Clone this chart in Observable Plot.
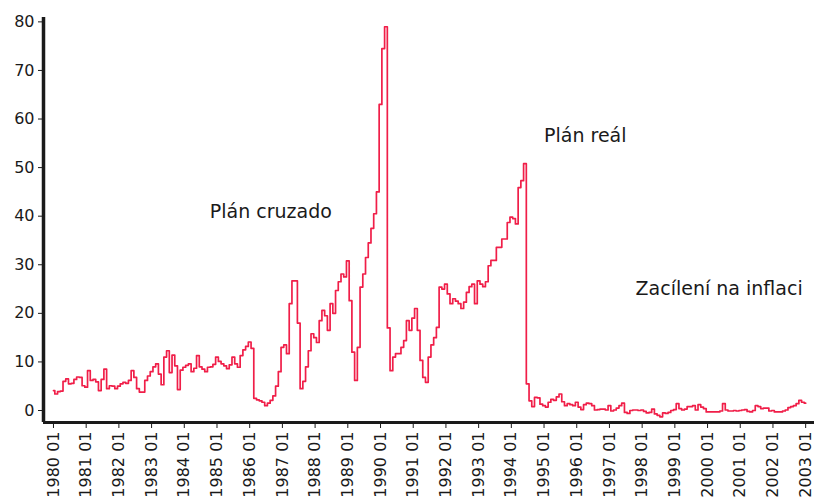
<!DOCTYPE html>
<html><head><meta charset="utf-8">
<script src="https://cdn.jsdelivr.net/npm/d3@7"></script>
<script src="https://cdn.jsdelivr.net/npm/@observablehq/plot@0.6"></script>
<style>html,body{margin:0;padding:0;background:#fff} svg{display:block}</style>
</head><body><div id="chart"></div>
<script>
// Monthly inflation (%), January..December
const infl1980 = [4.1, 3.4, 3.9, 4.0, 6.0, 6.5, 5.5, 5.6, 6.4, 6.9, 6.8, 5.1];
const infl1981 = [4.8, 8.2, 6.2, 6.4, 5.9, 4.1, 6.4, 8.5, 4.5, 5.1, 5.0, 4.5];
const infl1982 = [5.0, 5.5, 5.8, 5.6, 6.2, 8.2, 6.8, 4.5, 3.8, 3.8, 6.2, 7.1];
const infl1983 = [8.0, 9.0, 9.6, 7.5, 5.3, 11.0, 12.3, 7.8, 11.4, 9.2, 4.3, 8.3];
const infl1984 = [8.9, 9.3, 9.6, 8.0, 8.7, 11.3, 9.0, 8.5, 8.0, 8.9, 9.0, 9.5];
const infl1985 = [11.0, 10.1, 9.6, 9.2, 8.6, 9.4, 11.0, 9.6, 8.9, 11.3, 12.5, 13.2];
const infl1986 = [14.1, 12.8, 2.5, 2.2, 2.0, 1.7, 1.0, 1.5, 2.1, 3.0, 5.0, 8.0];
const infl1987 = [13.0, 13.5, 11.7, 22.0, 26.7, 26.7, 18.0, 4.5, 6.0, 9.0, 12.3, 15.8];
const infl1988 = [15.0, 14.0, 18.5, 20.6, 19.5, 16.5, 22.0, 20.0, 24.7, 26.5, 28.1, 27.5];
const infl1989 = [30.8, 22.6, 12.0, 6.2, 13.0, 25.4, 28.1, 31.5, 34.5, 37.5, 40.5, 45.0];
const infl1990 = [63.0, 74.5, 79.0, 17.0, 8.2, 11.0, 11.7, 11.7, 13.0, 14.4, 18.5, 16.5];
const infl1991 = [19.0, 21.0, 16.5, 10.3, 6.8, 5.8, 11.0, 13.5, 15.0, 17.1, 25.4, 25.0];
const infl1992 = [26.0, 24.0, 22.0, 23.0, 22.5, 22.0, 21.0, 22.3, 24.3, 25.5, 26.0, 22.0];
const infl1993 = [26.7, 26.0, 25.5, 26.5, 29.8, 30.9, 30.9, 33.6, 33.6, 35.3, 35.3, 38.7];
const infl1994 = [39.8, 39.5, 38.4, 45.9, 47.3, 50.8, 5.5, 2.0, 0.8, 2.7, 2.6, 1.3];
const infl1995 = [1.0, 0.7, 1.7, 2.3, 2.1, 2.8, 3.4, 1.8, 1.0, 1.4, 1.2, 1.0];
const infl1996 = [1.7, 0.7, 0.2, 1.2, 1.5, 1.4, 1.0, 0.1, 0.2, 0.3, 0.3, 0.1];
const infl1997 = [1.0, -0.1, 0.1, 0.5, 1.0, 1.5, -0.4, -0.6, 0.0, 0.1, 0.1, 0.0];
const infl1998 = [0.1, -0.2, -0.5, -0.4, 0.3, -0.7, -1.0, -1.3, -0.5, -0.6, -0.4, 0.0];
const infl1999 = [0.2, 1.4, 0.4, 0.1, 0.3, 0.8, 0.8, 1.0, 0.1, 1.2, 0.7, 0.4];
const infl2000 = [-0.3, -0.3, -0.3, -0.3, -0.3, -0.1, 1.4, 0.1, -0.1, -0.1, 0.0, -0.1];
const infl2001 = [0.0, 0.1, 0.2, -0.2, -0.3, 0.0, 1.0, 0.8, 0.4, 0.5, 0.5, -0.1];
const infl2002 = [0.0, -0.3, -0.3, -0.3, -0.1, 0.1, 0.6, 0.8, 1.0, 1.4, 2.1, 1.7];
const infl2003 = [1.5];

const seriesYears = [1980,1981,1982,1983,1984,1985,1986,1987,1988,1989,1990,1991,
  1992,1993,1994,1995,1996,1997,1998,1999,2000,2001,2002,2003];
const seriesValues = [infl1980,infl1981,infl1982,infl1983,infl1984,infl1985,infl1986,
  infl1987,infl1988,infl1989,infl1990,infl1991,infl1992,infl1993,infl1994,infl1995,
  infl1996,infl1997,infl1998,infl1999,infl2000,infl2001,infl2002,infl2003];

const xTicks = [1980,1981,1982,1983,1984,1985,1986,1987,1988,1989,1990,1991,
  1992,1993,1994,1995,1996,1997,1998,1999,2000,2001,2002,2003];
const xTickLabels = ["1980 01","1981 01","1982 01","1983 01","1984 01","1985 01",
  "1986 01","1987 01","1988 01","1989 01","1990 01","1991 01","1992 01","1993 01",
  "1994 01","1995 01","1996 01","1997 01","1998 01","1999 01","2000 01","2001 01",
  "2002 01","2003 01"];
const yTicks = [0, 10, 20, 30, 40, 50, 60, 70, 80];

const annotationTexts = ["Plán cruzado", "Plán reál", "Zacílení na inflaci"];
const annotationX = [1984.78, 1995.0, 1997.8];
const annotationY = [40.9, 56.6, 25.0];

const xDomain = [1979.695, 2003.27];
const yDomain = [-2.47, 80.9];

// Build the table for Plot
const rows = [];
seriesYears.forEach((yr, i) => {
  seriesValues[i].forEach((v, m) => rows.push({t: yr + m / 12, v}));
});
const notes = annotationTexts.map((s, i) => ({s, x: annotationX[i], y: annotationY[i]}));

const chart = Plot.plot({
  width: 814,
  height: 502,
  marginLeft: 43,
  marginRight: 0,
  marginTop: 17,
  marginBottom: 80,
  style: {fontFamily: "'DejaVu Sans', sans-serif", background: "#fff", color: "#1a1a1a"},
  x: {domain: xDomain},
  y: {domain: yDomain},
  marks: [
    Plot.axisY(yTicks, {tickSize: 5, tickPadding: 4, fontSize: 16, label: null}),
    Plot.axisX(xTicks, {tickRotate: -90, tickSize: 6, tickPadding: 3, fontSize: 16, label: null,
      tickFormat: d => xTickLabels[xTicks.indexOf(d)]}),
    Plot.line(rows, {x: "t", y: "v", stroke: "#f01e48", strokeWidth: 1.7, curve: "step"}),
    Plot.ruleX([xDomain[0]], {stroke: "#1a1a1a", strokeWidth: 3.5}),
    Plot.ruleY([yDomain[0]], {stroke: "#1a1a1a", strokeWidth: 3}),
    Plot.text(notes, {x: "x", y: "y", text: "s", textAnchor: "start", lineAnchor: "middle",
      fontSize: 19, fill: "#1a1a1a"})
  ]
});
document.getElementById("chart").appendChild(chart);
</script>
</body></html>
